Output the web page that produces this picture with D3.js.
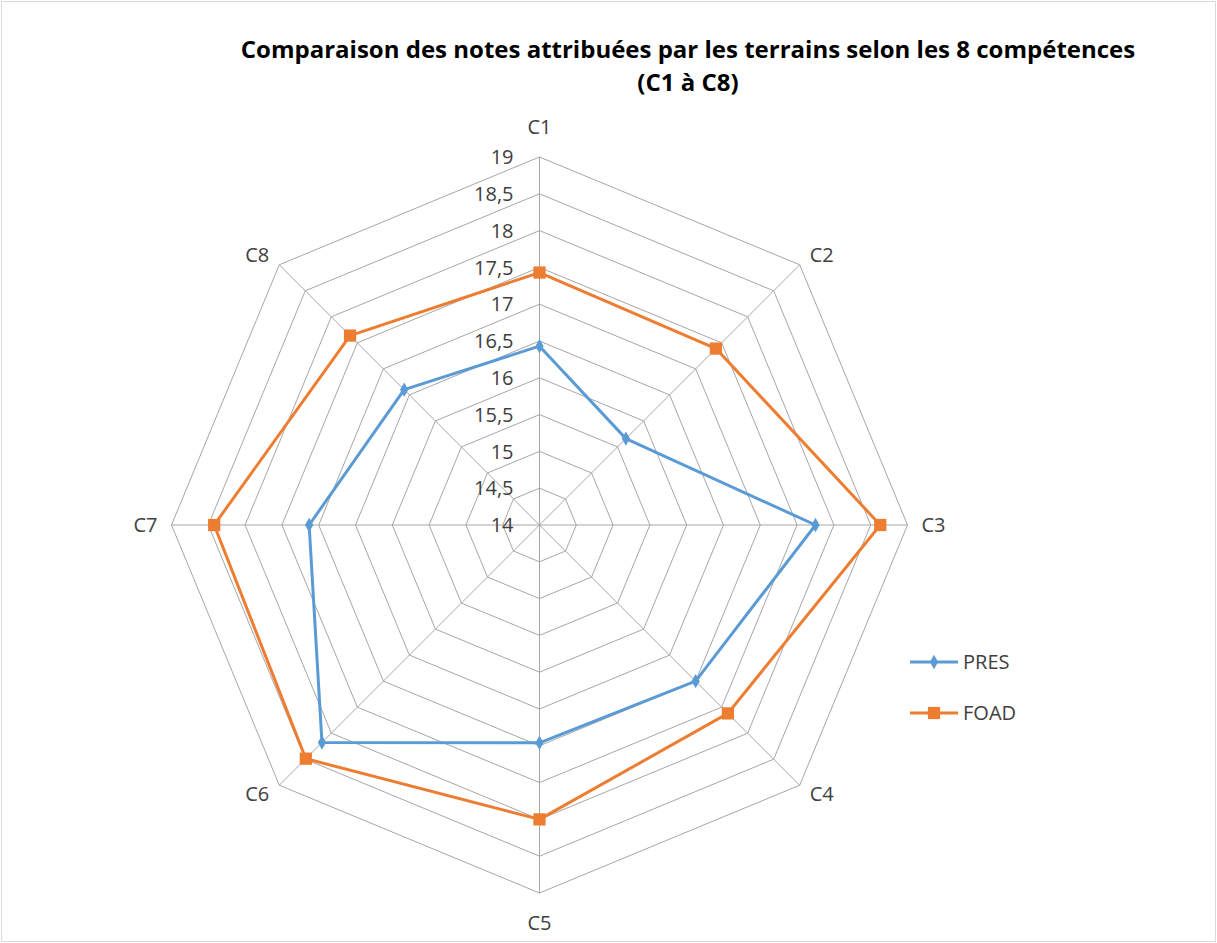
<!DOCTYPE html>
<html><head><meta charset="utf-8">
<script src="https://cdn.jsdelivr.net/npm/d3@7"></script>
<style>body{margin:0;background:#fff}svg{display:block}</style>
</head><body>
<script>
const categories = ["C1","C2","C3","C4","C5","C6","C7","C8"];
const presValues = [16.43, 15.66, 17.75, 17.0, 16.96, 18.18, 17.13, 16.6];
const foadValues = [17.43, 17.39, 18.63, 17.62, 18.0, 18.49, 18.42, 17.64];
const tickValues = [14,14.5,15,15.5,16,16.5,17,17.5,18,18.5,19];
const tickLabels = ["14","14,5","15","15,5","16","16,5","17","17,5","18","18,5","19"];
const seriesNames = ["PRES","FOAD"];

const W=1217,H=943, cx=539.5, cy=525, R=368;
const font = "'Open Sans', 'Noto Sans', sans-serif";
const fs = 20;
const svg = d3.select("body").append("svg").attr("width",W).attr("height",H);
svg.append("rect").attr("x",1.5).attr("y",1.5).attr("width",W-3).attr("height",H-3)
  .attr("fill","#fff").attr("stroke","#d9d9d9").attr("stroke-width",1);

const r = d3.scaleLinear().domain([14,19]).range([0,R]);
const ang = d3.scalePoint().domain(categories).range([0, 2*Math.PI*(categories.length-1)/categories.length]);
const pt = (c,v)=>{const a=ang(c); return [cx+r(v)*Math.sin(a), cy-r(v)*Math.cos(a)];};

const g = svg.append("g");
tickValues.slice(1).forEach(t=>{
  g.append("polygon").attr("points", categories.map(c=>pt(c,t).join(",")).join(" "))
   .attr("fill","none").attr("stroke","#a6a6a6").attr("stroke-width",1);
});
categories.forEach(c=>{
  const p=pt(c,19);
  g.append("line").attr("x1",cx).attr("y1",cy).attr("x2",p[0]).attr("y2",p[1])
   .attr("stroke","#a6a6a6").attr("stroke-width",1);
});
tickValues.forEach((t,i)=>{
  g.append("text").attr("x",cx-26).attr("y",cy-r(t)).attr("dy","0.36em")
   .attr("text-anchor","end").attr("font-family",font).attr("font-size",fs)
   .attr("fill","#404040").text(tickLabels[i]);
});
categories.forEach(c=>{
  const a=ang(c), s=Math.sin(a), co=Math.cos(a);
  const v = pt(c,19);
  let anchor="middle", xx=v[0], yy=v[1];
  if (Math.abs(s)<0.1){ yy = v[1] - 30*Math.sign(co); }
  else if (Math.abs(co)<0.1){ anchor = s>0?"start":"end"; xx = v[0] + 14*Math.sign(s); }
  else { anchor = s>0?"start":"end"; xx = v[0] + 10*Math.sign(s); yy = v[1] - (co>0?10:-9); }
  g.append("text").attr("x",xx).attr("y",yy).attr("dy","0.36em")
   .attr("text-anchor",anchor).attr("font-family",font).attr("font-size",fs)
   .attr("fill","#404040").text(c);
});

const colors = {PRES:"#5B9BD5", FOAD:"#ED7D31"};
const line = d3.line().curve(d3.curveLinearClosed);
[[ "PRES", presValues ],[ "FOAD", foadValues ]].forEach(([name,vals])=>{
  const pts = categories.map((c,i)=>pt(c,vals[i]));
  g.append("path").attr("d",line(pts)).attr("fill","none")
   .attr("stroke",colors[name]).attr("stroke-width",3).attr("stroke-linejoin","round");
  const sym = name==="PRES" ? d3.symbolDiamond : d3.symbolSquare;
  const size = name==="PRES" ? 60 : 150;
  g.selectAll(null).data(pts).enter().append("path")
   .attr("d", d3.symbol().type(sym).size(size))
   .attr("transform",d=>`translate(${d[0]},${d[1]})`)
   .attr("fill",colors[name]);
});

const leg = svg.append("g");
seriesNames.forEach((name,i)=>{
  const y = 662 + i*51;
  leg.append("line").attr("x1",910).attr("x2",958).attr("y1",y).attr("y2",y)
    .attr("stroke",colors[name]).attr("stroke-width",3);
  leg.append("path").attr("d", d3.symbol().type(name==="PRES"?d3.symbolDiamond:d3.symbolSquare).size(name==="PRES"?60:150))
    .attr("transform",`translate(934,${y})`).attr("fill",colors[name]);
  leg.append("text").attr("x",963).attr("y",y).attr("dy","0.36em")
    .attr("font-family",font).attr("font-size",fs).attr("fill","#404040").text(name);
});

const title = svg.append("text").attr("text-anchor","middle").attr("font-family",font)
  .attr("font-weight","bold").attr("font-size",24).attr("fill","#000");
title.append("tspan").attr("x",688).attr("y",58).text("Comparaison des notes attribuées par les terrains selon les 8 compétences");
title.append("tspan").attr("x",688).attr("y",91).text("(C1 à C8)");
</script>
</body></html>
